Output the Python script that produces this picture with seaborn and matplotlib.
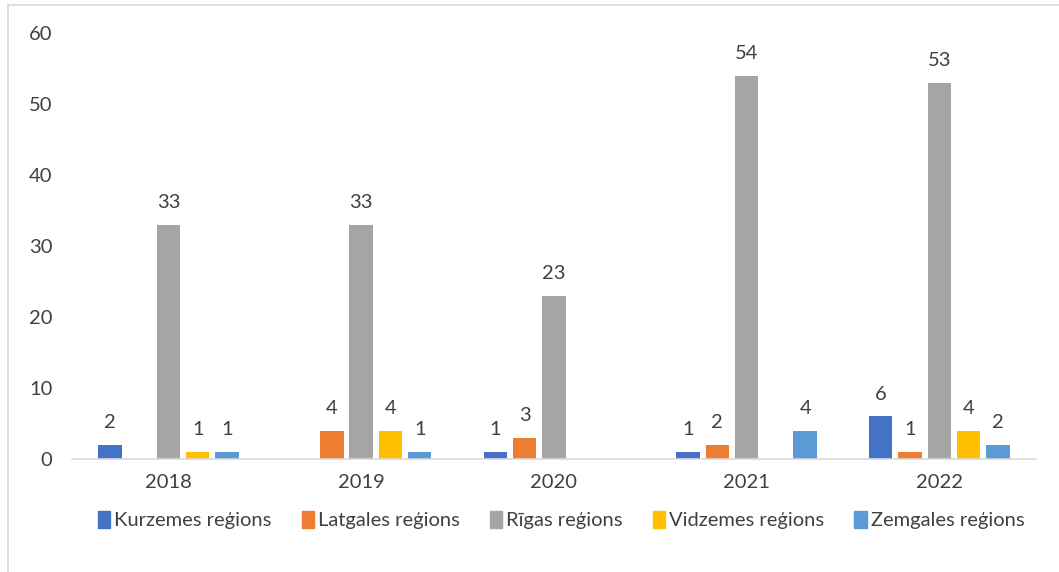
import numpy as np
import pandas as pd
import matplotlib.pyplot as plt
import matplotlib.patches as mpatches
import seaborn as sns

years = ['2018', '2019', '2020', '2021', '2022']
regions = ['Kurzemes reģions', 'Latgales reģions', 'Rīgas reģions',
           'Vidzemes reģions', 'Zemgales reģions']
kurzeme = [2, None, 1, 1, 6]
latgale = [None, 4, 3, 2, 1]
riga = [33, 33, 23, 54, 53]
vidzeme = [1, 4, None, None, 4]
zemgale = [1, 1, None, 4, 2]
colors = ['#4472C4', '#ED7D31', '#A5A5A5', '#FFC000', '#5B9BD5']

rows = []
for reg, vals in zip(regions, [kurzeme, latgale, riga, vidzeme, zemgale]):
    for y, v in zip(years, vals):
        rows.append({'Gads': y, 'Reģions': reg, 'Skaits': np.nan if v is None else v})
df = pd.DataFrame(rows)

sns.set_theme(style="white")
plt.rcParams['font.family'] = ['Lato', 'DejaVu Sans']

fig = plt.figure(figsize=(10.59, 5.72), dpi=100)
ax = fig.add_axes([0.068, 0.1976, 0.91, 0.7444])

sns.barplot(data=df, x='Gads', y='Skaits', hue='Reģions', order=years,
            hue_order=regions, palette=colors, saturation=1, width=0.76, gap=0.2,
            errorbar=None, ax=ax, legend=False, linewidth=0)

for cont in ax.containers:
    ax.bar_label(cont, fmt='%g', padding=10, fontsize=14.5, color='#404040')

ax.set_ylim(0, 60)
ax.set_yticks(range(0, 61, 10))
ax.set_xlim(-0.5, 4.5)
ax.set_xlabel('')
ax.set_ylabel('')
ax.tick_params(axis='y', length=0, pad=14, labelsize=14.5, labelcolor='#404040')
ax.tick_params(axis='x', length=0, pad=11, labelsize=14.5, labelcolor='#404040')
for side in ['top', 'right', 'left']:
    ax.spines[side].set_visible(False)
ax.spines['bottom'].set_color('#D9D9D9')
ax.spines['bottom'].set_linewidth(1.2)
ax.grid(False)

handles = [mpatches.Patch(color=c, label=r) for c, r in zip(colors, regions)]
fig.legend(handles=handles, loc='center', bbox_to_anchor=(0.53, 0.091), ncol=5,
           frameon=False, fontsize=14.5, handlelength=0.6, handleheight=0.9,
           handletextpad=0.2, columnspacing=1.5, labelcolor='#404040')

# outer chart border
fig.patches.append(mpatches.Rectangle((8 / 1059, -0.1), 1.2, 0.1 + (572 - 5) / 572,
                                      transform=fig.transFigure, fill=False,
                                      edgecolor='#D9D9D9', linewidth=1.2))

fig.savefig('out.png', dpi=100)
